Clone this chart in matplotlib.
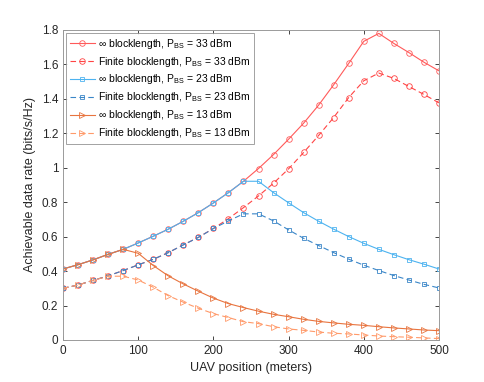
import matplotlib

matplotlib.use("Agg")
import matplotlib.pyplot as plt
import numpy as np

plt.rcParams["font.family"] = ["Liberation Sans", "DejaVu Sans"]
plt.rcParams["mathtext.fontset"] = "custom"
plt.rcParams["mathtext.rm"] = "Liberation Sans"
plt.rcParams["mathtext.it"] = "Liberation Sans:italic"

# UAV position (meters)
x_pos = np.arange(0, 501, 20)

inf_33 = [0.412, 0.437, 0.465, 0.497, 0.526, 0.563, 0.602, 0.643, 0.689, 0.739,
          0.795, 0.855, 0.921, 0.995, 1.076, 1.165, 1.258, 1.363, 1.481, 1.605,
          1.733, 1.779, 1.721, 1.668, 1.612, 1.562]
fin_33 = [0.300, 0.319, 0.346, 0.372, 0.403, 0.436, 0.468, 0.507, 0.552, 0.596,
          0.647, 0.704, 0.768, 0.836, 0.910, 0.993, 1.088, 1.187, 1.291, 1.407,
          1.504, 1.549, 1.518, 1.471, 1.425, 1.376]
inf_23 = [0.412, 0.437, 0.465, 0.497, 0.526, 0.563, 0.602, 0.643, 0.689, 0.739,
          0.795, 0.855, 0.921, 0.921, 0.855, 0.796, 0.739, 0.689, 0.643, 0.600,
          0.561, 0.526, 0.495, 0.466, 0.440, 0.412]
fin_23 = [0.300, 0.319, 0.346, 0.372, 0.403, 0.436, 0.468, 0.507, 0.552, 0.595,
          0.647, 0.691, 0.732, 0.732, 0.691, 0.639, 0.590, 0.548, 0.507, 0.469,
          0.434, 0.403, 0.374, 0.348, 0.323, 0.302]
inf_13 = [0.412, 0.437, 0.465, 0.497, 0.526, 0.503, 0.432, 0.372, 0.325, 0.283,
          0.243, 0.211, 0.188, 0.167, 0.149, 0.135, 0.120, 0.108, 0.099, 0.091,
          0.085, 0.077, 0.070, 0.064, 0.058, 0.054]
fin_13 = [0.300, 0.319, 0.346, 0.370, 0.370, 0.348, 0.306, 0.257, 0.219, 0.184,
          0.153, 0.130, 0.106, 0.095, 0.077, 0.064, 0.056, 0.046, 0.039, 0.035,
          0.029, 0.023, 0.019, 0.016, 0.012, 0.008]

fig = plt.figure(figsize=(4.85, 3.82), dpi=100)
ax = fig.add_axes([0.13, 0.11, 0.775, 0.812])

lw = 0.8
mew = 0.6
dash = (0, (5, 3))
ax.plot(x_pos, inf_33, "-", color="#ff5a5a", marker="o", mfc="none", ms=4, mew=mew, lw=lw,
        label=r"$\infty$ blocklength, P$_{\rm BS}$ = 33 dBm")
ax.plot(x_pos, fin_33, ls=dash, color="#ff4444", marker="o", mfc="none", ms=4, mew=mew, lw=lw,
        label=r"Finite blocklength, P$_{\rm BS}$ = 33 dBm")
ax.plot(x_pos, inf_23, "-", color="#4db3f0", marker="s", mfc="none", ms=3, mew=mew, lw=lw,
        label=r"$\infty$ blocklength, P$_{\rm BS}$ = 23 dBm")
ax.plot(x_pos, fin_23, ls=dash, color="#3a86c8", marker="s", mfc="none", ms=3, mew=mew, lw=lw,
        label=r"Finite blocklength, P$_{\rm BS}$ = 23 dBm")
ax.plot(x_pos, inf_13, "-", color="#e8743f", marker=">", mfc="none", ms=4, mew=mew, lw=lw,
        label=r"$\infty$ blocklength, P$_{\rm BS}$ = 13 dBm")
ax.plot(x_pos, fin_13, ls=dash, color="#ff9a6a", marker=">", mfc="none", ms=4, mew=mew, lw=lw,
        label=r"Finite blocklength, P$_{\rm BS}$ = 13 dBm")

ax.set_xlim(0, 500)
ax.set_ylim(0, 1.8)
ax.set_xticks([0, 100, 200, 300, 400, 500])
ax.set_yticks(np.arange(0, 1.81, 0.2))
ax.set_yticklabels(["0", "0.2", "0.4", "0.6", "0.8", "1", "1.2", "1.4", "1.6", "1.8"])
ax.tick_params(direction="in", top=True, right=True, labelsize=8.5, colors="#262626",
               length=3, width=0.6)
for s in ax.spines.values():
    s.set_color("#9a9a9a")
    s.set_linewidth(0.7)

ax.set_xlabel("UAV position (meters)", fontsize=9, color="#262626")
ax.set_ylabel("Achievable data rate (bits/s/Hz)", fontsize=9, color="#262626")

leg = ax.legend(loc="upper left", fontsize=7.5, frameon=True, fancybox=False,
                borderaxespad=0.3, handlelength=2.4, labelspacing=0.38,
                handletextpad=0.3, borderpad=0.35)
leg.get_frame().set_edgecolor("#8a8a8a")
leg.get_frame().set_linewidth(0.7)

fig.savefig("out.png", dpi=100)
